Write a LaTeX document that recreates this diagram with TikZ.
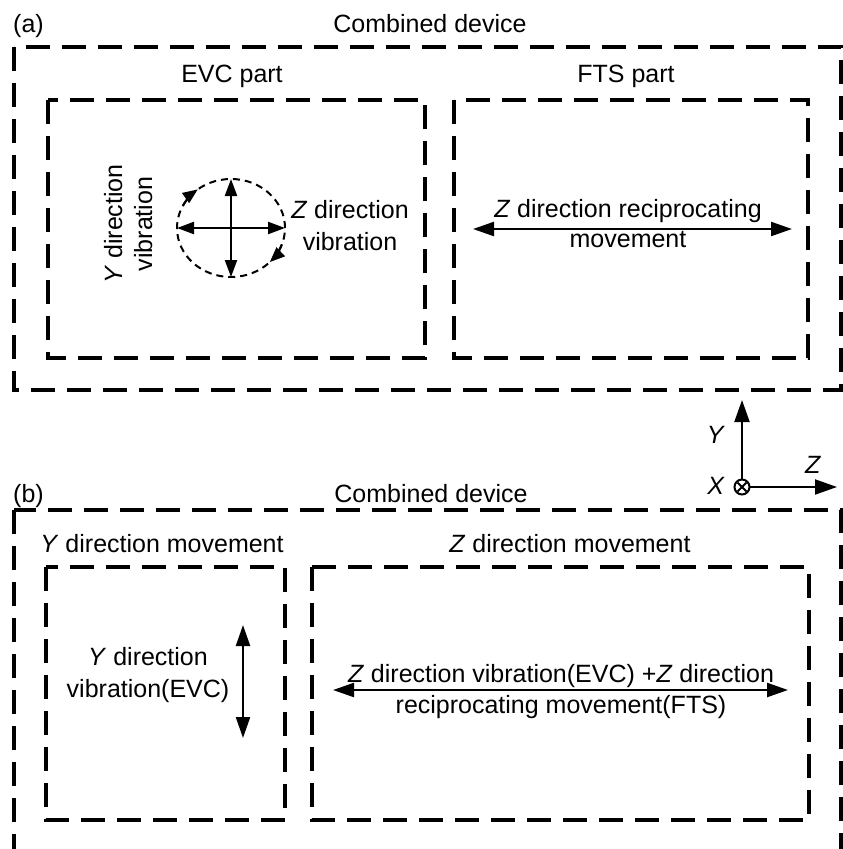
\documentclass[tikz,border=0pt]{standalone}
\usepackage{fontspec}
\setmainfont{Liberation Sans}
\usetikzlibrary{arrows.meta,calc}
\begin{document}
\begin{tikzpicture}[x=1pt,y=-1pt,
  box/.style={line width=3.1pt, dash pattern=on 24pt off 12pt},
  lbl/.style={font=\fontsize{25}{30}\selectfont, inner sep=0pt, anchor=base},
  dbl/.style={line width=2.3pt, {Triangle[length=21pt,width=14pt]}-{Triangle[length=21pt,width=14pt]}},
  dbls/.style={line width=2.3pt, {Triangle[length=17pt,width=12pt]}-{Triangle[length=17pt,width=12pt]}},
  axis/.style={line width=2pt, -{Triangle[length=22pt,width=15pt]}},
  orbit/.style={line width=2pt, dash pattern=on 7pt off 5pt},
  orbitarrow/.style={line width=2pt, -{Triangle[length=15pt,width=12pt]}},
  ]
\clip (0,0) rectangle (843,849);
\useasboundingbox (0,0) rectangle (843,849);

% ---------- (a) ----------
\node[lbl,anchor=base west] (la) at (13,32) {(a)};
\node[lbl] (ta) at (430,32) {Combined device};
\draw[box] (14,47) rectangle (841,390);
\node[lbl] (tevc) at (232,82) {EVC part};
\node[lbl] (tfts) at (626,82) {FTS part};
\draw[box] (48,100) rectangle (425,358);
\draw[box] (454,100) rectangle (808,358);

% EVC vibration
\coordinate (c) at (231,228);
\draw[orbit] (c) ellipse [x radius=54pt, y radius=49pt];
\draw[orbitarrow] (c) ++(152:54pt and 49pt) arc[start angle=152, end angle=128, x radius=54pt, y radius=49pt];
\draw[orbitarrow] (c) ++(-20:54pt and 49pt) arc[start angle=-20, end angle=-44, x radius=54pt, y radius=49pt];
\coordinate (cl) at (177,228);
\coordinate (cr) at (285,228);
\coordinate (ct) at (231,179);
\coordinate (cb) at (231,277);
\draw[dbls] (cl) -- (cr);
\draw[dbls] (ct) -- (cb);
\node[lbl,rotate=90] (yv1) at (122,224) {\textit{Y} direction};
\node[lbl,rotate=90] (yv2) at (152,224) {vibration};
\node[lbl] (zv1) at (350,218) {\textit{Z} direction};
\node[lbl] (zv2) at (350,250) {vibration};

% FTS movement
\node[lbl] (zr1) at (628,217) {\textit{Z} direction reciprocating};
\node[lbl] (zr2) at (628,247) {movement};
\coordinate (fl) at (473,229);
\coordinate (fr) at (792,229);
\draw[dbl] (fl) -- (fr);

% ---------- axes ----------
\coordinate (o) at (742,487);
\draw[line width=2pt] (o) circle [radius=7.5pt];
\draw[line width=2pt] ($(o)+(-4.5,-4.5)$) -- ($(o)+(4.5,4.5)$);
\draw[line width=2pt] ($(o)+(-4.5,4.5)$) -- ($(o)+(4.5,-4.5)$);
\coordinate (ot) at (742,479.5);
\coordinate (oy) at (742,400);
\coordinate (or) at (749.5,487);
\coordinate (oz) at (837,487);
\draw[axis] (ot) -- (oy);
\draw[axis] (or) -- (oz);
\node[lbl] (ly) at (716,443) {\textit{Y}};
\node[lbl] (lx) at (716,494) {\textit{X}};
\node[lbl] (lz) at (813,473) {\textit{Z}};

% ---------- (b) ----------
\node[lbl,anchor=base west] (lb) at (13,502) {(b)};
\node[lbl] (tb) at (431,502) {Combined device};
\draw[box] (14,510) rectangle (841,900);
\node[lbl] (ymov) at (162,552) {\textit{Y} direction movement};
\node[lbl] (zmov) at (570,552) {\textit{Z} direction movement};
\draw[box] (46,567) rectangle (285,820);
\draw[box] (312,567) rectangle (809,820);

\node[lbl] (yb1) at (148,665) {\textit{Y} direction};
\node[lbl] (yb2) at (148,697) {vibration(EVC)};
\coordinate (yt) at (243,625);
\coordinate (yb) at (243,738);
\draw[dbl] (yt) -- (yb);

\node[lbl] (zb1) at (561,682) {\textit{Z} direction vibration(EVC) +\textit{Z} direction};
\node[lbl] (zb2) at (561,713) {reciprocating movement(FTS)};
\coordinate (zl) at (333,690);
\coordinate (zr) at (788,690);
\draw[dbl] (zl) -- (zr);
\end{tikzpicture}
\end{document}
